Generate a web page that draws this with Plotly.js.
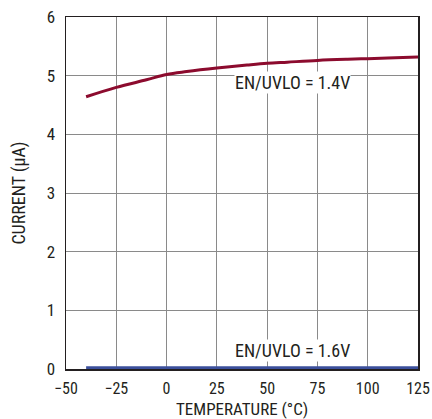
<!DOCTYPE html>
<html>
<head>
<meta charset="utf-8">
<script src="https://cdn.plot.ly/plotly-3.0.1.min.js"></script>
<style>
  html, body { margin: 0; padding: 0; background: #fff; }
  #chart { width: 432px; height: 419px; }
</style>
</head>
<body>
<div id="chart"></div>
<script>
// Shutdown current vs. temperature
const temperature = [-40, -25, -10, 0, 10, 25, 40, 50, 60, 75, 90, 100, 110, 125];
const current14V = [4.64, 4.80, 4.93, 5.02, 5.07, 5.13, 5.18, 5.21, 5.23, 5.26, 5.28, 5.29, 5.30, 5.32];
const current16V = [0.02, 0.02, 0.02, 0.02, 0.02, 0.02, 0.02, 0.02, 0.02, 0.02, 0.02, 0.02, 0.02, 0.02];
const xTicks = [-50, -25, 0, 25, 50, 75, 100, 125];
const xTickLabels = ['\u221250', '\u221225', '0', '25', '50', '75', '100', '125'];
const yTicks = [0, 1, 2, 3, 4, 5, 6];
const xTitle = 'TEMPERATURE (\u00B0C)';
const yTitle = 'CURRENT (\u00B5A)';

const fontFam = '"Liberation Sans Narrow", "Arial Narrow", "Roboto Condensed", "Liberation Sans", sans-serif';
const ink = '#231f20';

const traces = [
  {
    x: temperature, y: current14V, mode: 'lines', type: 'scatter',
    line: { color: '#8c0b2e', width: 3, shape: 'spline' }, hoverinfo: 'skip'
  },
  {
    x: temperature, y: current16V, mode: 'lines', type: 'scatter',
    line: { color: '#3b4f9b', width: 3 }, hoverinfo: 'skip'
  }
];

const layout = {
  width: 432, height: 419,
  margin: { l: 66, r: 14, t: 17, b: 50 },
  paper_bgcolor: '#fff', plot_bgcolor: '#fff',
  showlegend: false,
  font: { family: fontFam, size: 17, color: ink },
  xaxis: {
    range: [-50, 125], tickvals: xTicks, ticktext: xTickLabels,
    showgrid: true, gridcolor: '#8a8a8a', gridwidth: 1,
    zeroline: false, showline: true, linecolor: ink, linewidth: 1.5, mirror: true,
    ticks: '', ticklabelstandoff: 4,
    tickfont: { family: fontFam, size: 16, color: ink }
  },
  yaxis: {
    range: [0, 6], tickvals: yTicks,
    showgrid: true, gridcolor: '#8a8a8a', gridwidth: 1,
    zeroline: false, showline: true, linecolor: ink, linewidth: 1.5, mirror: true,
    ticks: '', ticklabelstandoff: 6,
    tickfont: { family: fontFam, size: 17, color: ink },
    title: { text: yTitle, font: { family: fontFam, size: 18, color: ink }, standoff: 16 }
  },
  annotations: [
    {
      // x-axis title, set just under the tick labels
      x: 0.5, y: -0.113, xref: 'paper', yref: 'paper', xanchor: 'center', yanchor: 'middle',
      text: xTitle, showarrow: false, font: { family: fontFam, size: 17, color: ink }
    },
    {
      x: 62.5, y: 4.88, xref: 'x', yref: 'y', text: 'EN/UVLO = 1.4V', showarrow: false,
      bgcolor: '#fff', borderpad: 0, font: { family: fontFam, size: 18, color: ink }
    },
    {
      x: 62.5, y: 0.31, xref: 'x', yref: 'y', text: 'EN/UVLO = 1.6V', showarrow: false,
      bgcolor: '#fff', borderpad: 0, font: { family: fontFam, size: 18, color: ink }
    }
  ]
};

Plotly.newPlot('chart', traces, layout, { staticPlot: true, displayModeBar: false });
</script>
</body>
</html>
